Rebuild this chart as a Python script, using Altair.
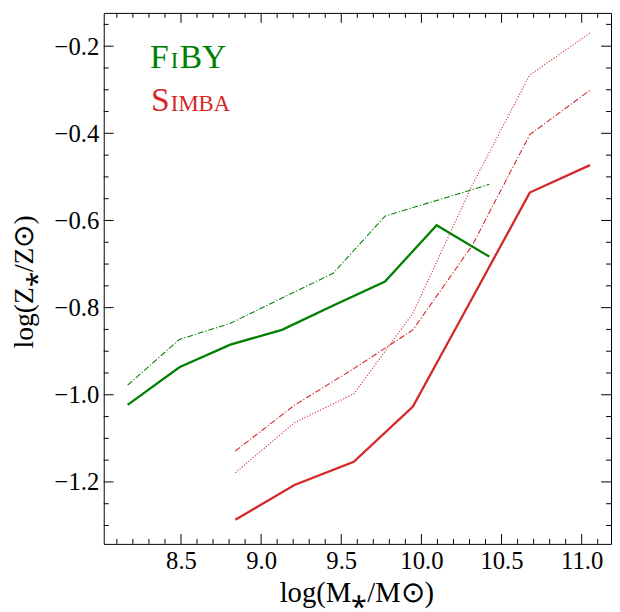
import altair as alt
import pandas as pd

# ---- data ----
fiby_mass = [8.167, 8.49, 8.808, 9.13, 9.45, 9.773, 10.095, 10.424]
fiby_median = [-1.023, -0.937, -0.885, -0.851, -0.795, -0.740, -0.611, -0.683]
fiby_dashdot = [-0.978, -0.873, -0.836, -0.778, -0.721, -0.590, -0.554, -0.517]

simba_mass = [8.839, 9.208, 9.578, 9.947, 10.316, 10.676, 11.052]
simba_median = [-1.287, -1.207, -1.154, -1.027, -0.779, -0.536, -0.473]
simba_dashdot = [-1.129, -1.024, -0.940, -0.851, -0.658, -0.403, -0.301]
simba_dotted = [-1.179, -1.064, -0.998, -0.813, -0.520, -0.266, -0.170]

x_major = [8.5, 9.0, 9.5, 10.0, 10.5, 11.0]
x_minor = [8.1, 8.2, 8.3, 8.4, 8.6, 8.7, 8.8, 8.9, 9.1, 9.2, 9.3, 9.4,
           9.6, 9.7, 9.8, 9.9, 10.1, 10.2, 10.3, 10.4, 10.6, 10.7, 10.8,
           10.9, 11.1]
y_major = [-1.2, -1.0, -0.8, -0.6, -0.4, -0.2]
y_minor = [-1.30, -1.25, -1.15, -1.10, -1.05, -0.95, -0.90, -0.85, -0.75,
           -0.70, -0.65, -0.55, -0.50, -0.45, -0.35, -0.30, -0.25, -0.15]

x_title = "log(M⁎/M⊙)"
y_title = "log(Z⁎/Z⊙)"

GREEN = "#008000"
RED = "#d62728"
FONT = "Liberation Serif"
W, H = 514, 538

xs = alt.Scale(domain=[8.018, 11.183], nice=False, zero=False)
ys = alt.Scale(domain=[-1.3422, -0.1237], nice=False, zero=False)

x_axis = alt.Axis(values=x_major, format=".1f", ticks=False, tickSize=0,
                  domain=False, grid=False, labelFont=FONT, labelFontSize=25,
                  labelColor="black", labelPadding=5, labelFlush=False,
                  title=x_title, titleFont=FONT, titleFontSize=29,
                  titleFontWeight="normal", titleColor="black",
                  titleX=256, titleY=58, titleAlign="center",
                  titleBaseline="alphabetic")
y_axis = alt.Axis(values=y_major, format=".1f", ticks=False, tickSize=0,
                  domain=False, grid=False, labelFont=FONT, labelFontSize=25,
                  labelColor="black", labelPadding=5, labelFlush=False,
                  title=y_title, titleFont=FONT, titleFontSize=28,
                  titleFontWeight="normal", titleColor="black",
                  titleX=-80, titleY=272, titleAlign="center",
                  titleBaseline="middle", titleAngle=270)

series = [
    (fiby_mass, fiby_dashdot, GREEN, [6, 2, 1.2, 2], 1.1),
    (fiby_mass, fiby_median, GREEN, None, 2.3),
    (simba_mass, simba_dotted, RED, [1.1, 1.8], 1.1),
    (simba_mass, simba_dashdot, RED, [6, 2, 1.2, 2], 1.1),
    (simba_mass, simba_median, RED, None, 2.3),
]

layers = []
for i, (mx, my, col, dash, sw) in enumerate(series):
    df = pd.DataFrame({"x": mx, "y": my})
    mk = dict(color=col, strokeWidth=sw, clip=True)
    if dash:
        mk["strokeDash"] = dash
    if i == 0:
        enc = dict(x=alt.X("x:Q", scale=xs, axis=x_axis),
                   y=alt.Y("y:Q", scale=ys, axis=y_axis))
    else:
        enc = dict(x=alt.X("x:Q", scale=xs), y=alt.Y("y:Q", scale=ys))
    layers.append(alt.Chart(df).mark_line(**mk).encode(**enc))

# inward ticks on all four sides
def xticks(vals, length):
    df = pd.DataFrame({"x": vals})
    bot = alt.Chart(df).mark_rule(color="black", strokeWidth=1).encode(
        x=alt.X("x:Q", scale=xs), y=alt.value(H), y2=alt.value(H - length))
    top = alt.Chart(df).mark_rule(color="black", strokeWidth=1).encode(
        x=alt.X("x:Q", scale=xs), y=alt.value(0), y2=alt.value(length))
    return [bot, top]

def yticks(vals, length):
    df = pd.DataFrame({"y": vals})
    left = alt.Chart(df).mark_rule(color="black", strokeWidth=1).encode(
        y=alt.Y("y:Q", scale=ys), x=alt.value(0), x2=alt.value(length))
    right = alt.Chart(df).mark_rule(color="black", strokeWidth=1).encode(
        y=alt.Y("y:Q", scale=ys), x=alt.value(W), x2=alt.value(W - length))
    return [left, right]

layers += xticks(x_major, 10) + xticks(x_minor, 5)
layers += yticks(y_major, 10) + yticks(y_minor, 5)

# small-caps style labels (large initial + small capitals)
label_parts = [
    ("F", 47, 56, 34, GREEN),
    ("I", 68, 56, 23, GREEN),
    ("BY", 77, 56, 34, GREEN),
    ("S", 48, 99, 34, RED),
    ("IMBA", 68, 99, 23, RED),
]
for t, px, py, fs, col in label_parts:
    layers.append(
        alt.Chart(pd.DataFrame({"t": [t]})).mark_text(
            font=FONT, fontSize=fs, color=col, align="left",
            baseline="alphabetic").encode(
            text="t:N", x=alt.value(px), y=alt.value(py)))

chart = alt.layer(*layers).properties(
    width=W, height=H,
    autosize=alt.AutoSizeParams(type="none"),
    padding={"left": 97, "top": 1, "right": 1, "bottom": 64},
).configure_view(stroke="black", strokeWidth=1)

chart.save("out.html", embed_options={"renderer": "svg", "actions": False})
